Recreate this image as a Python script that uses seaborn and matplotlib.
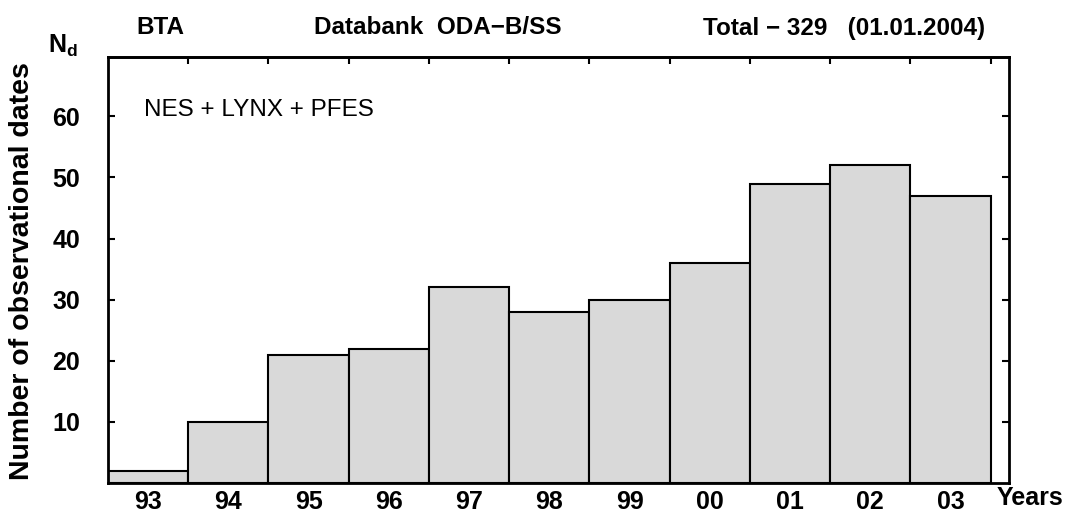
import matplotlib
matplotlib.use("Agg")
import matplotlib.pyplot as plt
import seaborn as sns
import pandas as pd

years = ["93", "94", "95", "96", "97", "98", "99", "00", "01", "02", "03"]
counts = [2, 10, 21, 22, 32, 28, 30, 36, 49, 52, 47]
yticks = [10, 20, 30, 40, 50, 60]

sns.set_style("ticks")
plt.rcParams['font.family'] = ['Liberation Sans', 'DejaVu Sans']
plt.rcParams['mathtext.fontset'] = 'custom'
plt.rcParams['mathtext.bf'] = 'Liberation Sans:bold'
plt.rcParams['mathtext.rm'] = 'Liberation Sans'
plt.rcParams['text.color'] = 'black'
plt.rcParams['axes.labelcolor'] = 'black'
plt.rcParams['xtick.color'] = 'black'
plt.rcParams['ytick.color'] = 'black'

df = pd.DataFrame({"year": years, "n": counts})

fig = plt.figure(figsize=(10.67, 5.24), dpi=100)
ax = fig.add_axes([108/1067, 41/524, (1009-108)/1067, (483-57)/524])

sns.barplot(data=df, x="year", y="n", color="#d9d9d9", edgecolor="black",
            linewidth=1.5, width=1.0, saturation=1, ax=ax)

ax.set_xlim(-0.5, 10.73)
ax.set_ylim(0, 69.7)
ax.set_yticks(yticks)
ax.set_yticklabels([str(v) for v in yticks], fontsize=18, fontweight='bold')
ax.set_xticks(range(len(years)))
ax.set_xticklabels(years, fontsize=18, fontweight='bold')
ax.tick_params(axis='x', length=0, pad=5)
ax.tick_params(axis='y', direction='in', length=5, width=1.5, right=True, pad=20)
ax.set_xlabel("")
ax.set_ylabel("Number of observational dates", fontsize=20.5, fontweight='bold',
              va='center')
ax.yaxis.set_label_coords(-0.095, 0.498)

for s in ax.spines.values():
    s.set_visible(True)
    s.set_linewidth(2)
    s.set_color("black")

sec = ax.secondary_xaxis('top')
sec.set_xticks([k + 0.5 for k in range(len(years))])
sec.set_xticklabels([])
sec.tick_params(direction='in', length=5, width=1.5)
sec.spines['top'].set_linewidth(2)

ax.text(0.04, 0.876, "NES + LYNX + PFES", transform=ax.transAxes,
        fontsize=17.5, ha='left', va='center')

fig.text(160/1067, 1 - 28/524, "BTA", fontsize=17.5, fontweight='bold', ha='center', va='center')
fig.text(438/1067, 1 - 28/524, "Databank  ODA\u2212B/SS", fontsize=17.5, fontweight='bold', ha='center', va='center')
fig.text(844/1067, 1 - 28/524, "Total \u2212 329   (01.01.2004)", fontsize=17.5, fontweight='bold', ha='center', va='center')
fig.text(63/1067, 1 - 46/524, r"$\mathbf{N}_\mathbf{d}$", fontsize=18, ha='center', va='center')
fig.text(1030/1067, 1 - 498/524, "Years", fontsize=18, fontweight='bold', ha='center', va='center')

fig.savefig("out.png", dpi=100)
